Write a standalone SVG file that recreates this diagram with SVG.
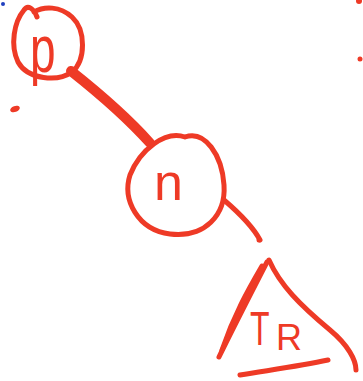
<svg xmlns="http://www.w3.org/2000/svg" width="363" height="381" viewBox="0 0 363 381">
<style>
.s{fill:none;stroke:#ee3a26;stroke-width:5;stroke-linecap:round;stroke-linejoin:round}
.w{stroke-width:10}
.t{fill:#ee3a26;font-family:"Liberation Sans",Arial,sans-serif}
.d{fill:#ee3a26}
</style>
<rect width="363" height="381" fill="#fff"/>
<circle cx="3" cy="4" r="2" fill="#2040c0"/>
<circle cx="359" cy="1" r="3" class="d"/>
<circle cx="360" cy="59" r="2.5" class="d"/>
<g id="node-p">
<path class="s" d="M37,17 C34,9 28,4 24,10 C14,22 10,45 18,62 C28,80 58,82 72,72 C86,60 86,30 72,17 C60,6 44,6 34,12"/>
<text class="t" font-size="46" transform="translate(30,72) scale(1,1.45)">p</text>
<ellipse cx="15" cy="109" rx="5" ry="3" class="d" transform="rotate(-20 15 109)"/>
</g>
<g id="node-n">
<path class="s" d="M185,137 C165,130 140,150 130,175 C122,200 138,230 170,234 C205,238 226,215 224,185 C222,155 205,130 185,137"/>
<text class="t" x="154" y="200" font-size="52">n</text>
</g>
<g id="node-TR">
<path class="s" d="M267,262 C250,295 232,330 219,357"/>
<path class="s" d="M262,266 C248,290 234,315 222,350"/>
<path class="s" d="M269,260 C280,285 300,305 330,330 C348,345 356,360 356,370"/>
<path class="s" d="M240,375 C270,370 300,366 328,360"/>
<circle cx="259" cy="240" r="2.5" class="d"/>
<text class="t" font-size="40" transform="translate(250,345) scale(0.8,1.2)">T</text>
<text class="t" x="276" y="350" font-size="36">R</text>
</g>
<g id="connectors">
<path class="s w" d="M71,71 C95,90 125,115 150,143"/>
<path class="s" d="M224,200 C238,212 252,225 260,240"/>
</g>
</svg>
